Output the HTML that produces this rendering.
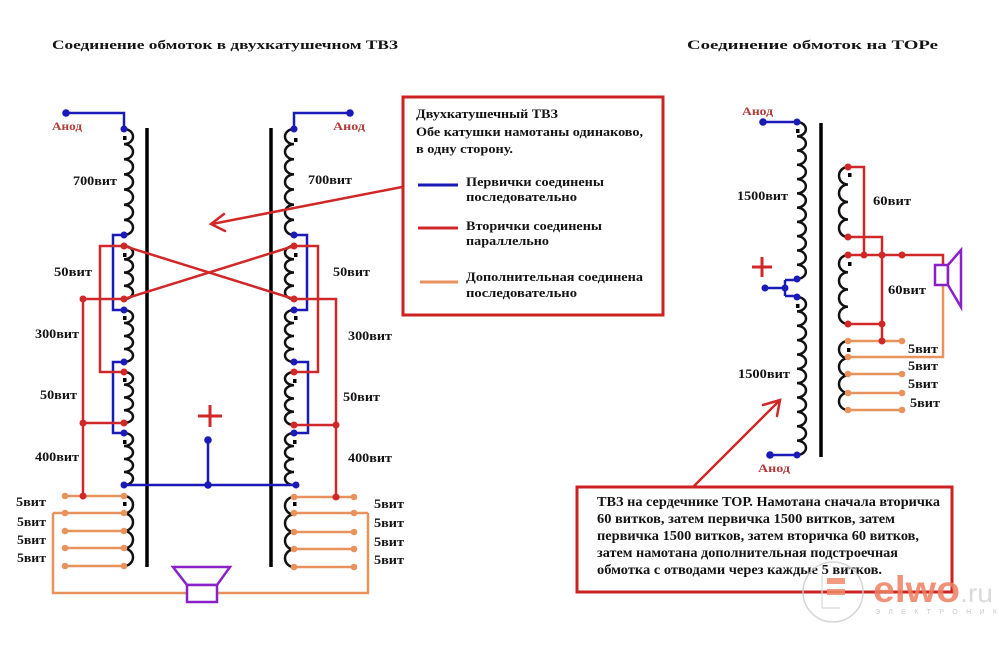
<!DOCTYPE html>
<html><head><meta charset="utf-8"><style>
html,body{margin:0;padding:0;background:#fff;}
svg{display:block;}
text{font-family:"Liberation Serif","DejaVu Serif",serif;font-weight:bold;fill:#141414;}
.an{fill:#b23a3a;}
</style></head><body>
<svg width="999" height="645" viewBox="0 0 999 645" xmlns="http://www.w3.org/2000/svg">
<rect width="999" height="645" fill="#fff"/>

<!-- Titles -->
<text x="52" y="49" font-size="13" textLength="346" lengthAdjust="spacingAndGlyphs">Соединение обмоток в двухкатушечном ТВЗ</text>
<text x="687" y="49" font-size="13" textLength="251" lengthAdjust="spacingAndGlyphs">Соединение обмоток на ТОРе</text>

<!-- ===== LEFT TRANSFORMER ===== -->
<!-- cores -->
<path d="M147 128V567M271 128V567" stroke="#000" stroke-width="3.5" fill="none"/>

<!-- orange additional wiring (under) -->
<g stroke="#e8925e" stroke-width="2.5" fill="none">
<path d="M65 496H124M53 513H124M65 531H124M65 548H124M65 566H124"/>
<path d="M294 497H354M294 513H368M294 532H354M294 549H354M294 567H354"/>
<path d="M53 513V593H368V513"/>
</g>

<!-- coils -->
<g stroke="#111" stroke-width="2.5" fill="none">
<path d="M124 129a9 7.57 0 0 1 0 15.14a9 7.57 0 0 1 0 15.14a9 7.57 0 0 1 0 15.14a9 7.57 0 0 1 0 15.14a9 7.57 0 0 1 0 15.14a9 7.57 0 0 1 0 15.14a9 7.57 0 0 1 0 15.14"/>
<path d="M124 246a9 6.625 0 0 1 0 13.25a9 6.625 0 0 1 0 13.25a9 6.625 0 0 1 0 13.25a9 6.625 0 0 1 0 13.25"/>
<path d="M124 310a9 6.5 0 0 1 0 13a9 6.5 0 0 1 0 13a9 6.5 0 0 1 0 13a9 6.5 0 0 1 0 13"/>
<path d="M124 372a9 6.375 0 0 1 0 12.75a9 6.375 0 0 1 0 12.75a9 6.375 0 0 1 0 12.75a9 6.375 0 0 1 0 12.75"/>
<path d="M124 433a9 6.5 0 0 1 0 13a9 6.5 0 0 1 0 13a9 6.5 0 0 1 0 13a9 6.5 0 0 1 0 13"/>
<path d="M124 496a9 8.75 0 0 1 0 17.5a9 8.75 0 0 1 0 17.5a9 8.75 0 0 1 0 17.5a9 8.75 0 0 1 0 17.5"/>

<path d="M294 129a9 7.57 0 0 0 0 15.14a9 7.57 0 0 0 0 15.14a9 7.57 0 0 0 0 15.14a9 7.57 0 0 0 0 15.14a9 7.57 0 0 0 0 15.14a9 7.57 0 0 0 0 15.14a9 7.57 0 0 0 0 15.14"/>
<path d="M294 246a9 6.625 0 0 0 0 13.25a9 6.625 0 0 0 0 13.25a9 6.625 0 0 0 0 13.25a9 6.625 0 0 0 0 13.25"/>
<path d="M294 310a9 6.5 0 0 0 0 13a9 6.5 0 0 0 0 13a9 6.5 0 0 0 0 13a9 6.5 0 0 0 0 13"/>
<path d="M294 372a9 6.625 0 0 0 0 13.25a9 6.625 0 0 0 0 13.25a9 6.625 0 0 0 0 13.25a9 6.625 0 0 0 0 13.25"/>
<path d="M294 433a9 6.5 0 0 0 0 13a9 6.5 0 0 0 0 13a9 6.5 0 0 0 0 13a9 6.5 0 0 0 0 13"/>
<path d="M294 497a9 8.75 0 0 0 0 17.5a9 8.75 0 0 0 0 17.5a9 8.75 0 0 0 0 17.5a9 8.75 0 0 0 0 17.5"/>
</g>
<!-- markers -->
<g fill="#000">
<rect x="123" y="136" width="3.5" height="4"/>
<rect x="123" y="253" width="3.5" height="4"/>
<rect x="123" y="316" width="3.5" height="4"/>
<rect x="123" y="378" width="3.5" height="4"/>
<rect x="123" y="440" width="3.5" height="4"/>
<rect x="123" y="502" width="3.5" height="4"/>
<rect x="294" y="138" width="3.5" height="4"/>
<rect x="294" y="253" width="3.5" height="4"/>
<rect x="294" y="316" width="3.5" height="4"/>
<rect x="293" y="379" width="3.5" height="4"/>
<rect x="293" y="440" width="3.5" height="4"/>
<rect x="293" y="502" width="3.5" height="4"/>
</g>

<!-- blue wiring -->
<g stroke="#1a1ab8" stroke-width="2.5" fill="none">
<path d="M66 113H124V129"/>
<path d="M124 235H113V310H124"/>
<path d="M124 362H113V433H124"/>
<path d="M124 485H294M208 485V440"/>
<path d="M350 113H294V129"/>
<path d="M294 235H307V310H294"/>
<path d="M294 362H308V433H294"/>
</g>
<!-- red wiring -->
<g stroke="#d02828" stroke-width="2.5" fill="none">
<path d="M124 246L294 299M124 299L294 246"/>
<path d="M124 246H100V372H124"/>
<path d="M124 299H83V496"/>
<path d="M83 423H124"/>
<path d="M294 246H318V372H294"/>
<path d="M294 299H336V497"/>
<path d="M294 425H336"/>
</g>
<!-- dots -->
<g fill="#e8925e">
<circle cx="65" cy="496" r="3.3"/><circle cx="124" cy="496" r="3.3"/>
<circle cx="65" cy="513" r="3.3"/><circle cx="124" cy="513" r="3.3"/>
<circle cx="65" cy="531" r="3.3"/><circle cx="124" cy="531" r="3.3"/>
<circle cx="65" cy="548" r="3.3"/><circle cx="124" cy="548" r="3.3"/>
<circle cx="65" cy="566" r="3.3"/><circle cx="124" cy="566" r="3.3"/>
<circle cx="294" cy="497" r="3.3"/><circle cx="354" cy="497" r="3.3"/>
<circle cx="294" cy="513" r="3.3"/><circle cx="354" cy="513" r="3.3"/>
<circle cx="294" cy="532" r="3.3"/><circle cx="354" cy="532" r="3.3"/>
<circle cx="294" cy="549" r="3.3"/><circle cx="354" cy="549" r="3.3"/>
<circle cx="294" cy="567" r="3.3"/><circle cx="354" cy="567" r="3.3"/>
</g>
<g fill="#1a1ab8">
<circle cx="66" cy="113" r="3.8"/><circle cx="124" cy="129" r="3.5"/>
<circle cx="124" cy="235" r="3.5"/><circle cx="124" cy="310" r="3.5"/>
<circle cx="124" cy="362" r="3.5"/><circle cx="124" cy="433" r="3.5"/>
<circle cx="124" cy="485" r="3.5"/><circle cx="208" cy="485" r="3.8"/>
<circle cx="208" cy="440" r="3.8"/>
<circle cx="350" cy="113" r="3.8"/><circle cx="294" cy="129" r="3.5"/>
<circle cx="294" cy="235" r="3.5"/><circle cx="294" cy="310" r="3.5"/>
<circle cx="294" cy="362" r="3.5"/><circle cx="294" cy="433" r="3.5"/>
<circle cx="296" cy="485" r="3.5"/>
</g>
<g fill="#d02828">
<circle cx="124" cy="246" r="3.5"/><circle cx="124" cy="299" r="3.5"/>
<circle cx="83" cy="299" r="3.5"/><circle cx="124" cy="372" r="3.5"/>
<circle cx="124" cy="423" r="3.5"/><circle cx="83" cy="423" r="3.5"/>
<circle cx="83" cy="496" r="3.5"/>
<circle cx="294" cy="246" r="3.5"/><circle cx="294" cy="299" r="3.5"/>
<circle cx="294" cy="372" r="3.5"/><circle cx="294" cy="425" r="3.5"/>
<circle cx="336" cy="425" r="3.5"/><circle cx="336" cy="497" r="3.5"/>
</g>
<!-- plus -->
<path d="M198 416H222M210 405V427" stroke="#d02828" stroke-width="3" fill="none"/>
<!-- speaker left -->
<g stroke="#8a20c8" stroke-width="2.5" fill="#fff">
<polygon points="173,567 230,567 217,585 187,585"/>
<rect x="187" y="585" width="30" height="17"/>
</g>

<!-- labels left transformer -->
<text class="an" x="52" y="130" font-size="12" textLength="30" lengthAdjust="spacingAndGlyphs">Анод</text>
<text class="an" x="333" y="130" font-size="12" textLength="32" lengthAdjust="spacingAndGlyphs">Анод</text>
<g font-size="13">
<text x="73" y="185" textLength="44" lengthAdjust="spacingAndGlyphs">700вит</text>
<text x="308" y="184" textLength="44" lengthAdjust="spacingAndGlyphs">700вит</text>
<text x="54" y="276" textLength="38" lengthAdjust="spacingAndGlyphs">50вит</text>
<text x="333" y="276" textLength="37" lengthAdjust="spacingAndGlyphs">50вит</text>
<text x="35" y="338" textLength="44" lengthAdjust="spacingAndGlyphs">300вит</text>
<text x="348" y="340" textLength="44" lengthAdjust="spacingAndGlyphs">300вит</text>
<text x="40" y="399" textLength="37" lengthAdjust="spacingAndGlyphs">50вит</text>
<text x="343" y="401" textLength="37" lengthAdjust="spacingAndGlyphs">50вит</text>
<text x="35" y="461" textLength="44" lengthAdjust="spacingAndGlyphs">400вит</text>
<text x="348" y="462" textLength="44" lengthAdjust="spacingAndGlyphs">400вит</text>
<text x="16" y="506" textLength="30" lengthAdjust="spacingAndGlyphs">5вит</text>
<text x="17" y="526" textLength="29" lengthAdjust="spacingAndGlyphs">5вит</text>
<text x="17" y="544" textLength="29" lengthAdjust="spacingAndGlyphs">5вит</text>
<text x="17" y="562" textLength="29" lengthAdjust="spacingAndGlyphs">5вит</text>
<text x="374" y="508" textLength="30" lengthAdjust="spacingAndGlyphs">5вит</text>
<text x="374" y="527" textLength="30" lengthAdjust="spacingAndGlyphs">5вит</text>
<text x="374" y="546" textLength="30" lengthAdjust="spacingAndGlyphs">5вит</text>
<text x="374" y="564" textLength="30" lengthAdjust="spacingAndGlyphs">5вит</text>
</g>

<!-- ===== TEXT BOX 1 ===== -->
<rect x="403" y="97" width="260" height="218" fill="none" stroke="#cc2222" stroke-width="3"/>
<path d="M418 185H458" stroke="#1a1ab8" stroke-width="3"/>
<path d="M418 228H458" stroke="#d02828" stroke-width="3"/>
<path d="M420 282H458" stroke="#e8925e" stroke-width="3"/>
<g font-size="13">
<text x="416" y="118" textLength="142" lengthAdjust="spacingAndGlyphs">Двухкатушечный ТВЗ</text>
<text x="416" y="136" textLength="227" lengthAdjust="spacingAndGlyphs">Обе катушки намотаны одинаково,</text>
<text x="416" y="153" textLength="97" lengthAdjust="spacingAndGlyphs">в одну сторону.</text>
<text x="466" y="186" textLength="138" lengthAdjust="spacingAndGlyphs">Первички соединены</text>
<text x="466" y="201" textLength="111" lengthAdjust="spacingAndGlyphs">последовательно</text>
<text x="466" y="230" textLength="136" lengthAdjust="spacingAndGlyphs">Вторички соединены</text>
<text x="466" y="245" textLength="83" lengthAdjust="spacingAndGlyphs">параллельно</text>
<text x="466" y="281" textLength="177" lengthAdjust="spacingAndGlyphs">Дополнительная соединена</text>
<text x="466" y="297" textLength="111" lengthAdjust="spacingAndGlyphs">последовательно</text>
</g>
<!-- arrow 1 -->
<g stroke="#d02828" stroke-width="2.5" fill="none" stroke-linecap="round">
<path d="M402 187L212 224"/>
<path d="M224 214L211 224L225 231"/>
</g>

<!-- ===== TOR TRANSFORMER ===== -->
<path d="M821 123V457" stroke="#000" stroke-width="3.5" fill="none"/>
<g stroke="#e8925e" stroke-width="2.5" fill="none">
<path d="M848 341H902M848 374H902M848 393H902M848 410H902"/>
<path d="M848 357H943V285"/>
</g>
<g stroke="#111" stroke-width="2.5" fill="none">
<path d="M797 122a9 7.136 0 0 1 0 14.27a9 7.136 0 0 1 0 14.27a9 7.136 0 0 1 0 14.27a9 7.136 0 0 1 0 14.27a9 7.136 0 0 1 0 14.27a9 7.136 0 0 1 0 14.27a9 7.136 0 0 1 0 14.27a9 7.136 0 0 1 0 14.27a9 7.136 0 0 1 0 14.27a9 7.136 0 0 1 0 14.27a9 7.136 0 0 1 0 14.27"/>
<path d="M797 297a9 7.18 0 0 1 0 14.36a9 7.18 0 0 1 0 14.36a9 7.18 0 0 1 0 14.36a9 7.18 0 0 1 0 14.36a9 7.18 0 0 1 0 14.36a9 7.18 0 0 1 0 14.36a9 7.18 0 0 1 0 14.36a9 7.18 0 0 1 0 14.36a9 7.18 0 0 1 0 14.36a9 7.18 0 0 1 0 14.36a9 7.18 0 0 1 0 14.36"/>
<path d="M848 167a9 8.75 0 0 0 0 17.5a9 8.75 0 0 0 0 17.5a9 8.75 0 0 0 0 17.5a9 8.75 0 0 0 0 17.5"/>
<path d="M848 255a9 8.625 0 0 0 0 17.25a9 8.625 0 0 0 0 17.25a9 8.625 0 0 0 0 17.25a9 8.625 0 0 0 0 17.25"/>
<path d="M848 341a9 8.625 0 0 0 0 17.25a9 8.625 0 0 0 0 17.25a9 8.625 0 0 0 0 17.25a9 8.625 0 0 0 0 17.25"/>
</g>
<g fill="#000">
<rect x="796" y="129" width="3.5" height="4"/>
<rect x="796" y="304" width="3.5" height="4"/>
<rect x="848" y="173" width="3.5" height="4"/>
<rect x="848" y="262" width="3.5" height="4"/>
<rect x="847" y="348" width="3.5" height="4"/>
</g>
<g stroke="#1a1ab8" stroke-width="2.5" fill="none">
<path d="M763 122H797"/>
<path d="M765 288H785M785 280V296M785 280H797M785 296H797"/>
<path d="M797 455H770"/>
</g>
<g stroke="#d02828" stroke-width="2.5" fill="none">
<path d="M848 167H864V255"/>
<path d="M848 237H882V341"/>
<path d="M848 255H943V265"/>
<path d="M848 324H882"/>
</g>
<g fill="#e8925e">
<circle cx="848" cy="341" r="3.3"/><circle cx="902" cy="341" r="3.3"/>
<circle cx="848" cy="357" r="3.3"/>
<circle cx="848" cy="374" r="3.3"/><circle cx="902" cy="374" r="3.3"/>
<circle cx="848" cy="393" r="3.3"/><circle cx="902" cy="393" r="3.3"/>
<circle cx="848" cy="410" r="3.3"/><circle cx="902" cy="410" r="3.3"/>
</g>
<g fill="#1a1ab8">
<circle cx="763" cy="122" r="3.8"/><circle cx="797" cy="122" r="3.5"/>
<circle cx="765" cy="288" r="3.5"/><circle cx="785" cy="288" r="3.5"/>
<circle cx="797" cy="279" r="3.5"/><circle cx="797" cy="297" r="3.5"/>
<circle cx="797" cy="455" r="3.5"/><circle cx="770" cy="455" r="3.8"/>
</g>
<g fill="#d02828">
<circle cx="848" cy="167" r="3.5"/><circle cx="848" cy="237" r="3.5"/>
<circle cx="848" cy="255" r="3.5"/><circle cx="864" cy="255" r="3.5"/>
<circle cx="882" cy="255" r="3.5"/><circle cx="902" cy="255" r="3.5"/>
<circle cx="848" cy="324" r="3.5"/><circle cx="882" cy="324" r="3.5"/>
<circle cx="882" cy="341" r="3.5"/>
</g>
<path d="M752 267H772M762 257V277" stroke="#d02828" stroke-width="3" fill="none"/>
<g stroke="#8a20c8" stroke-width="2.5" fill="#fff">
<rect x="935" y="265" width="13" height="20"/>
<polygon points="948,265 961,250 961,307 948,285"/>
</g>
<text class="an" x="742" y="115" font-size="12" textLength="31" lengthAdjust="spacingAndGlyphs">Анод</text>
<text class="an" x="758" y="472" font-size="12" textLength="32" lengthAdjust="spacingAndGlyphs">Анод</text>
<g font-size="13">
<text x="737" y="200" textLength="51" lengthAdjust="spacingAndGlyphs">1500вит</text>
<text x="738" y="378" textLength="52" lengthAdjust="spacingAndGlyphs">1500вит</text>
<text x="873" y="205" textLength="38" lengthAdjust="spacingAndGlyphs">60вит</text>
<text x="888" y="294" textLength="38" lengthAdjust="spacingAndGlyphs">60вит</text>
<text x="908" y="353" textLength="30" lengthAdjust="spacingAndGlyphs">5вит</text>
<text x="908" y="370" textLength="30" lengthAdjust="spacingAndGlyphs">5вит</text>
<text x="908" y="388" textLength="30" lengthAdjust="spacingAndGlyphs">5вит</text>
<text x="910" y="407" textLength="30" lengthAdjust="spacingAndGlyphs">5вит</text>
</g>

<!-- ===== TEXT BOX 2 ===== -->
<rect x="577" y="487" width="375" height="105" fill="none" stroke="#cc2222" stroke-width="3"/>
<g font-size="13.5">
<text x="597" y="506" textLength="343" lengthAdjust="spacingAndGlyphs">ТВЗ на сердечнике ТОР. Намотана сначала вторичка</text>
<text x="597" y="523" textLength="298" lengthAdjust="spacingAndGlyphs">60 витков, затем первичка 1500 витков, затем</text>
<text x="597" y="540" textLength="322" lengthAdjust="spacingAndGlyphs">первичка 1500 витков, затем вторичка 60 витков,</text>
<text x="597" y="557" textLength="301" lengthAdjust="spacingAndGlyphs">затем намотана дополнительная подстроечная</text>
<text x="597" y="574" textLength="285" lengthAdjust="spacingAndGlyphs">обмотка с отводами через каждые 5 витков.</text>
</g>
<g stroke="#d02828" stroke-width="2.5" fill="none" stroke-linecap="round">
<path d="M693 487L779 401"/>
<path d="M763 405L780 400L777 416"/>
</g>

<!-- ===== LOGO watermark ===== -->
<g opacity="0.85">
<circle cx="833" cy="592" r="30" fill="none" stroke="#d0d0d0" stroke-width="1.5"/>
<path d="M822 576V608M822 608H840" stroke="#dadada" stroke-width="1.5" fill="none"/>
<rect x="827" y="578" width="18" height="6" fill="#f08a6a"/>
<rect x="827" y="589" width="18" height="6" fill="#f08a6a"/>
<text x="873" y="602" font-size="37" textLength="87" lengthAdjust="spacingAndGlyphs" style="font-family:'Liberation Sans',sans-serif;font-weight:bold;fill:#ee8060;">elwo</text>
<text x="960" y="602" font-size="26" textLength="33" lengthAdjust="spacingAndGlyphs" style="font-family:'Liberation Sans',sans-serif;font-weight:normal;fill:#d4d4d4;">.ru</text>
<text x="875" y="614" font-size="7" textLength="122" lengthAdjust="spacing" style="font-family:'Liberation Sans',sans-serif;font-weight:normal;fill:#c0c0c0;">ЭЛЕКТРОНИК</text>
</g>
</svg>
</body></html>
